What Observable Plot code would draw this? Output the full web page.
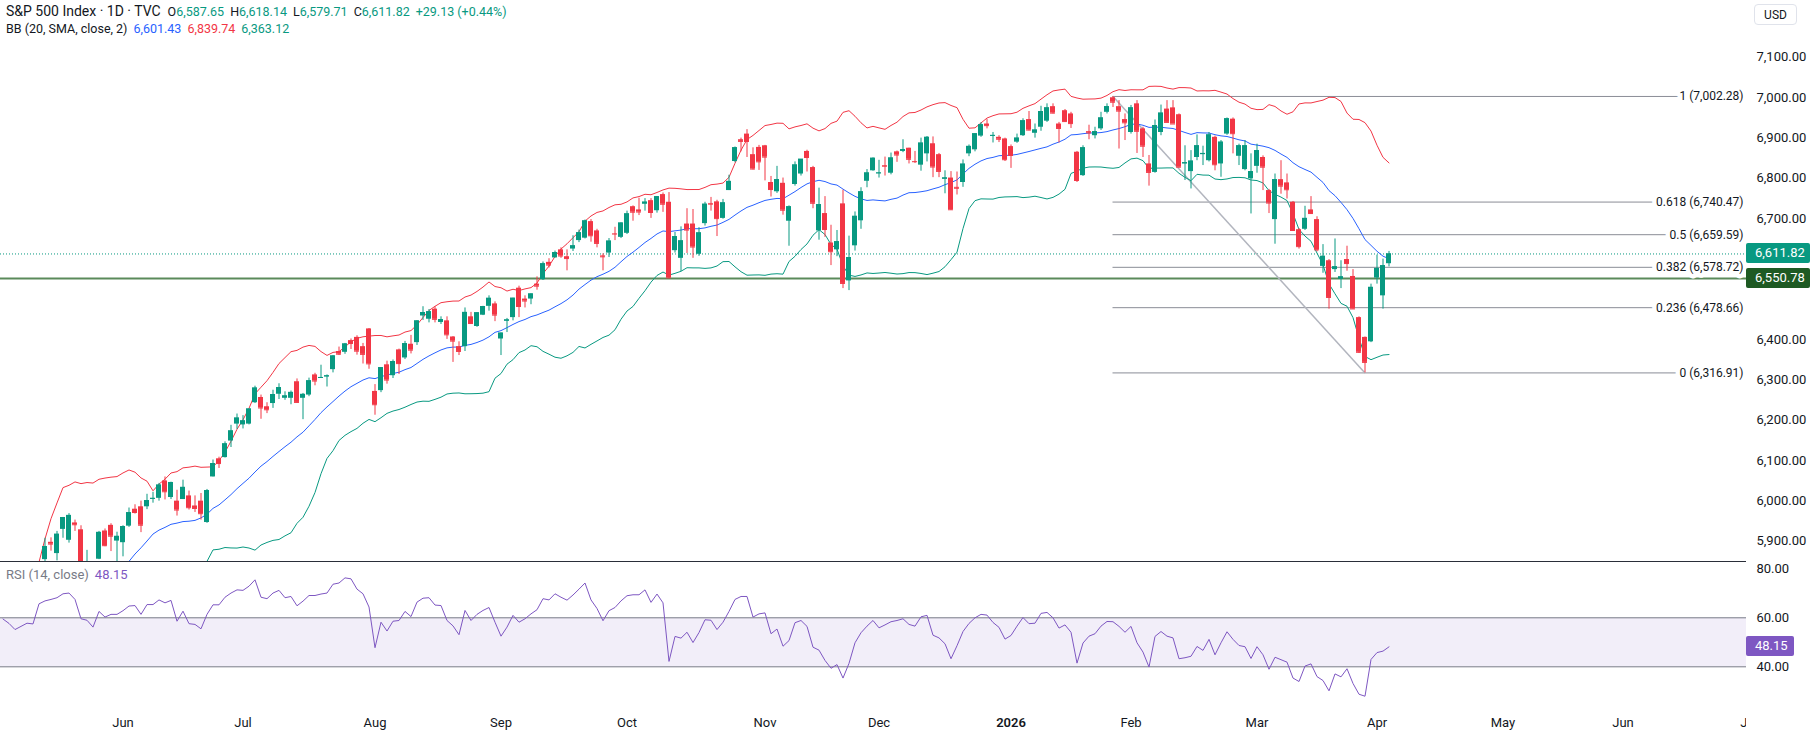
<!DOCTYPE html>
<html><head><meta charset="utf-8">
<script src="https://cdn.jsdelivr.net/npm/d3@7"></script>
<script src="https://cdn.jsdelivr.net/npm/@observablehq/plot@0.6"></script>
<style>
body{margin:0;background:#fff;font-family:Roboto,"Noto Sans",sans-serif;}
#wrap{position:relative;width:1812px;height:733px;overflow:hidden;background:#fff;}
#wrap svg{position:absolute;left:0;}
.legend{position:absolute;left:6px;font-size:13px;color:#131722;white-space:nowrap;}
.legend > span{margin-right:6px;}
.legend.bb{font-size:12.5px;}
.legend.top{font-size:12.5px;}
.legend.top > span{margin-right:6px;}
.legend.top > span.name{font-size:14px;margin-right:7px;}
.badge{position:absolute;left:1746px;width:64px;height:20px;line-height:20px;padding-left:9px;box-sizing:border-box;color:#fff;font-size:13px;border-radius:2px;}
.sep{position:absolute;left:0;background:#2a2e39;}
#usd{position:absolute;left:1754px;top:4px;width:43px;height:21px;line-height:21px;text-align:center;border:1px solid #e0e3eb;border-radius:4px;font-size:12px;color:#131722;box-sizing:border-box;}
</style></head><body><div id="wrap"></div>
<script>
// ---------------- data ----------------
const priorClose = [5405.97,5396.63,5275.70,5282.70,5158.20,5287.76,5375.86,5484.77,5525.21,5528.75,5560.83,5569.06,5604.14,5686.67,5650.38,5606.91,5631.28,5663.94,5659.91,5844.19];
const open = [5854,5897,5869,5929,5902,5945,5928,5841,5781,5855,5925,5939,5900,5896,5937,5979,5985,5985,6004,6006,
6049,6008,5999,6003,6012,5987,5999,5946,6059,6104,6107,6148,6190,6188,6190,6243,6256,6233,6241,6264,
6254,6254,6295,6254,6262,6312,6304,6307,6325,6370,6368,6397,6405,6382,6426,6271,6273,6337,6310,6374,
6354,6388,6392,6458,6450,6475,6442,6446,6406,6382,6382,6456,6432,6460,6482,6488,6401,6445,6454,6527,
6500,6500,6537,6548,6591,6602,6622,6605,6624,6645,6651,6692,6669,6607,6614,6662,6653,6663,6729,6721,
6735,6744,6719,6759,6740,6620,6601,6686,6686,6611,6687,6737,6741,6700,6769,6841,6895,6909,6858,6876,
6880,6789,6766,6787,6693,6784,6810,6866,6826,6669,6712,6639,6622,6736,6545,6632,6694,6792,6818,6811,
6831,6812,6865,6866,6874,6841,6832,6860,6885,6858,6797,6800,6777,6789,6860,6870,6904,6934,6904,6901,
6897,6878,6889,6905,6945,6911,6926,6941,6977,6934,6967,6959,6864,6806,6915,6905,6922,6963,6999,6977,
6945,6913,6984,6922,6835,6814,6913,6971,6974,6957,6835,6816,6851,6858,6843,6901,6835,6909,6946,6854,
6821,6798,6829,6851,6769,6697,6796,6788,6740,6672,6673,6721,6697,6581,6595,6573,6549,6598,6556,6454,
6405,6394,6552,6508,6587.65];
const high = [5907,5908,5924,5958.6,5968,5952,5938,5877,5829,5924,5930,5943,5922,5938,5982,5990,5999,6016,6021,6043,
6059,6046,6026,6051,6024,6012,6018,6028,6101,6108,6146,6187,6215,6211,6227,6284,6262,6243,6274,6290,
6270,6272,6302,6266,6304,6316,6336,6312,6360,6381,6390,6401,6409,6390,6427,6288,6330,6346,6349,6376,
6395,6410,6446,6481,6474,6481,6456,6456,6407,6394,6478,6467,6466,6482,6508,6493,6416,6452,6502,6532,
6508,6513,6555,6592,6600,6619,6627,6622,6657,6671,6696,6697,6673,6612,6650,6678,6689,6718,6731,6750,
6749,6749,6754,6763,6764,6665,6679,6724,6722,6677,6740,6752,6745,6747,6807,6877,6899,6920,6875,6881,
6881,6804,6829,6800,6731,6840,6846,6869,6829,6775,6754,6683,6670,6770,6656,6716,6776,6821,6850,6844,
6852,6862,6867,6895,6874,6866,6899,6903,6902,6861,6818,6816,6815,6845,6882,6910,6937,6945,6913,6905,
6899,6882,6909,6947,6965,6934,6978,6984,6984,6938,6970,6963,6866,6880,6931,6926,6963,6984,7002.28,6992,
6959,6980,6992,6926,6856,6944,6981,6992,6992,6959,6880,6868,6907,6879,6913,6904,6893,6949,6949,6884,
6893,6860,6884,6855,6772,6810,6843,6810,6742,6675,6730,6754,6704,6635,6598,6649,6595,6631,6573,6456,
6406,6537,6609,6599,6618.14];
const low = [5843,5875,5851,5907,5895,5924,5830,5809,5767,5854,5886,5874,5843,5861,5934,5967,5921,5978,5994,5999,
6002,6003,5962,6003,5977,5971,5952,5944,6059,6080,6106,6132,6177,6178,6188,6241,6202,6216,6229,6251,
6249,6238,6242,6201,6258,6285,6303,6282,6317,6360,6363,6375,6361,6339,6326,6212,6268,6289,6303,6313,
6350,6364,6385,6447,6441,6441,6437,6400,6343,6360,6370,6438,6430,6459,6470,6444,6360,6417,6446,6454,
6478,6486,6522,6546,6577,6602,6601,6570,6618,6640,6649,6641,6627,6570,6603,6645,6650,6660,6693,6707,
6718,6700,6713,6715,6550,6614,6568,6613,6601,6606,6681,6718,6655,6698,6769,6838,6865,6851,6820,6819,
6793,6753,6762,6708,6631,6780,6805,6815,6724,6646,6653,6583,6605,6526,6521,6619,6673,6776,6817,6800,
6805,6808,6839,6863,6835,6836,6817,6840,6801,6801,6761,6720,6758,6777,6853,6865,6901,6922,6887,6888,
6841,6824,6886,6903,6917,6899,6916,6938,6959,6887,6938,6923,6789,6804,6895,6897,6918,6959,6975,6872,
6893,6909,6861,6851,6780,6812,6905,6937,6936,6825,6794,6773,6843,6831,6840,6818,6802,6906,6860,6831,
6818,6711,6812,6769,6712,6636,6760,6748,6668,6624,6670,6710,6617,6564,6475,6566,6526,6569,6475,6365,
6316.91,6392,6537,6475,6579.71];
const close = [5886.55,5892.58,5916.93,5958.38,5963.60,5940.46,5844.61,5842.01,5802.82,5921.54,5888.55,5912.17,5911.69,5935.94,5970.37,5970.81,5939.30,6000.36,6005.88,6038.81,
6022.24,6045.26,5976.97,6033.11,5982.72,5980.87,5967.84,6025.17,6092.18,6092.16,6141.02,6173.07,6204.95,6198.01,6227.42,6279.35,6229.98,6225.52,6263.26,6280.46,
6259.75,6268.56,6243.76,6263.70,6297.36,6296.79,6305.60,6309.62,6358.91,6363.35,6388.64,6389.77,6370.86,6362.90,6339.39,6238.01,6329.94,6299.19,6345.06,6340.00,
6389.45,6373.45,6445.76,6466.58,6468.54,6449.80,6449.15,6411.37,6395.78,6370.17,6466.91,6439.32,6465.94,6481.40,6501.86,6460.26,6415.54,6448.26,6502.08,6481.50,
6495.15,6512.61,6532.04,6587.47,6584.29,6615.28,6606.76,6600.35,6631.96,6664.36,6693.75,6656.92,6637.97,6604.72,6643.70,6661.21,6688.46,6711.20,6715.35,6715.79,
6740.28,6714.59,6753.72,6735.11,6552.51,6654.72,6644.31,6671.06,6629.07,6664.01,6735.13,6735.35,6699.40,6738.44,6791.69,6875.16,6890.89,6890.59,6822.34,6840.20,
6851.97,6771.55,6796.29,6720.32,6728.80,6832.43,6846.61,6850.92,6737.49,6734.11,6672.41,6617.32,6642.16,6538.76,6602.99,6705.12,6765.88,6812.61,6849.09,6812.63,
6829.37,6849.72,6857.12,6870.40,6846.51,6840.51,6886.68,6901.00,6827.41,6816.51,6800.26,6721.43,6774.76,6834.50,6878.49,6909.79,6932.05,6929.94,6905.74,6896.24,
6845.50,6856,6899,6942,6919,6919,6965,6974,6961,6923,6940,6935,6794,6875,6912,6915,6949,6977,6988,6966,
6937,6974,6916,6879,6814,6930,6961,6938,6934,6827,6838,6842,6880,6861,6907,6833,6889,6947,6910,6880,
6880,6816,6868,6827,6738,6796,6780,6771,6670,6630,6700,6712,6622,6606,6504,6580,6555,6588,6475.5,6368,
6343,6529,6576,6582.69,6611.82];
const rsiFirstBar = -7;
const rsi = [59.5,57.7,55.2,56.5,57.8,57.5,65.7,
66.9,67.5,68.2,69.8,70.1,67.5,59.6,59.0,56.2,62.6,60.3,61.4,61.4,62.9,64.8,65.0,61.4,65.4,65.4,67.3,
66.1,67.1,58.6,62.7,57.6,57.3,55.5,61.4,65.3,65.3,68.4,70.1,71.4,71.2,72.9,75.5,68.4,67.8,70.1,71.2,
68.2,68.7,64.9,66.8,69.1,69.1,69.7,70.1,73.7,74.2,76.3,75.9,71.7,69.8,64.4,47.8,58.2,54.6,58.6,58.9,
62.6,60.5,66.4,68.0,68.2,65.2,65.0,58.9,56.7,53.1,63.0,58.9,61.4,63.0,64.2,58.2,52.5,56.2,61.0,58.2,
59.6,61.6,63.3,67.8,67.3,69.8,68.4,67.2,69.3,71.7,74.2,67.3,63.8,58.8,62.9,64.2,66.9,69.0,69.4,69.4,
71.4,66.3,69.7,66.1,42.2,52.4,51.7,54.1,49.9,54.0,59.2,59.0,55.2,58.2,62.6,67.5,68.7,68.7,60.3,61.6,
62.0,53.5,55.4,48.4,50.7,58.0,58.9,56.5,48.0,46.8,42.6,39.4,40.9,35.4,41.4,49.8,53.9,56.6,58.9,55.9,
57.1,58.4,58.9,59.6,57.3,56.6,60.4,61.0,52.9,51.8,49.4,43.3,48.6,54.4,57.7,60.0,61.4,61.1,58.1,56.1,
51.3,52.8,56.6,60.1,57.6,57.8,61.8,62.2,60.0,55.8,57.1,54.1,41.5,49.7,52.5,53.5,56.6,58.5,58.4,56.5,
54.1,56.5,49.8,46.0,39.9,52.4,54.4,52.5,51.8,43.3,43.7,44.3,48.3,46.7,51.2,44.9,49.8,54.3,51.2,48.7,
48.2,43.4,48.2,44.9,39.0,43.9,42.9,41.9,35.4,34.0,40.3,41.2,36.0,34.4,30.2,37.1,35.9,39.2,33.2,28.8,
28.0,43.0,45.8,46.4,48.15];
const monthLabels = ["Jun","Jul","Aug","Sep","Oct","Nov","Dec","2026","Feb","Mar","Apr","May","Jun","Jul"];
const monthBar    = [13,33,55,76,97,120,139,161,181,202,222,243,263,284];
const priceTicks = [5900,6000,6100,6200,6300,6400,6700,6800,6900,7000,7100];
const rsiTicks = [40,60,80];
const rsiBand = [40,60];
const fibRatios = ["1","0.618","0.5","0.382","0.236","0"];
const fibPrices = [7002.28,6740.47,6659.59,6578.72,6478.66,6316.91];
const fibFromBar = 178, fibToBar = 220;
const supportLevel = 6550.78;
const lastClose = 6611.82;
const headerName = "S&P 500 Index · 1D · TVC";
const headerKeys = ["O","H","L","C"];
const headerVals = [6587.65,6618.14,6579.71,6611.82];
const headerChange = "+29.13 (+0.44%)";
const bbTitle = "BB (20, SMA, close, 2)";
const bbVals = [6601.43,6839.74,6363.12];
const rsiTitle = "RSI (14, close)";
const rsiLast = 48.15;

// ---------------- tables ----------------
const UP = "#089981", DOWN = "#f23645";
const bars = close.map((c, k) => ({i: k, o: open[k], h: high[k], l: low[k], c}));
const closes = priorClose.map((c, k) => ({i: k - priorClose.length, c})).concat(bars.map(b => ({i: b.i, c: b.c})));
const rsiRows = rsi.map((v, k) => ({i: k + rsiFirstBar, v}));
const months = monthLabels.map((label, k) => ({label, i: monthBar[k]}));
const fibs = fibRatios.map((r, k) => ({r, p: fibPrices[k]}));
const fmt = d3.format(",.2f");
const col = d => d.c >= d.o ? UP : DOWN;
const sd = v => { const m = d3.mean(v); return Math.sqrt(d3.mean(v, x => (x - m) ** 2)); };
const upperFn = v => d3.mean(v) + 2 * sd(v);
const lowerFn = v => d3.mean(v) - 2 * sd(v);

// ---------------- layout ----------------
const W = 1812, axisW = 66, paneW = W - axisW;
const barPx = 6, firstBarX = 44.5;
const xDomain = [-firstBarX / barPx, (paneW - firstBarX) / barPx];
const half = 2.5 / barPx;
const font = {fontFamily: "Roboto, 'Noto Sans', sans-serif", fontSize: "13px", color: "#131722", background: "transparent", overflow: "visible"};

const main = Plot.plot({
  width: W, height: 562, marginLeft: 0, marginRight: axisW, marginTop: 0, marginBottom: 0,
  style: font,
  x: {domain: xDomain, axis: null},
  y: {domain: [5846.9, 7240.2], axis: null},
  marks: [
    Plot.axisY(priceTicks, {anchor: "right", label: null, tickSize: 0, tickPadding: 10, tickFormat: fmt, fill: "#131722"}),
    Plot.ruleY([supportLevel], {stroke: "#5a8a5a", strokeWidth: 2}),
    Plot.ruleY([lastClose], {stroke: UP, strokeDasharray: "1 2"}),
    Plot.ruleY(fibs, {y: "p", x1: fibFromBar, x2: xDomain[1], stroke: "#8a8d96", strokeWidth: 1}),
    Plot.text(fibs, {y: "p", x: xDomain[1], text: d => `${d.r} (${fmt(d.p)})`, textAnchor: "end", dx: -3, fill: "#131722", fontSize: 12, stroke: "white", strokeWidth: 9}),
    Plot.link([{x1: fibFromBar, y1: fibPrices[0], x2: fibToBar, y2: fibPrices[5]}], {x1: "x1", y1: "y1", x2: "x2", y2: "y2", stroke: "#b2b5be", strokeWidth: 1.5}),
    Plot.line(closes, Plot.windowY({k: 20, anchor: "end", reduce: upperFn}, {x: "i", y: "c", stroke: "#f23645", strokeWidth: 1, clip: true})),
    Plot.line(closes, Plot.windowY({k: 20, anchor: "end", reduce: "mean"}, {x: "i", y: "c", stroke: "#2962ff", strokeWidth: 1, clip: true})),
    Plot.line(closes, Plot.windowY({k: 20, anchor: "end", reduce: lowerFn}, {x: "i", y: "c", stroke: "#089981", strokeWidth: 1, clip: true})),
    Plot.ruleX(bars, {x: "i", y1: "l", y2: "h", stroke: col, strokeWidth: 1, clip: true}),
    Plot.rect(bars, {x1: d => d.i - half, x2: d => d.i + half, y1: "o", y2: "c", fill: col, clip: true}),
    Plot.ruleY(bars, {y: "c", x1: d => d.i - half, x2: d => d.i + half, stroke: col, clip: true})
  ]
});

const rsiPane = Plot.plot({
  width: W, height: 150, marginLeft: 0, marginRight: axisW, marginTop: 0, marginBottom: 0,
  style: font,
  x: {domain: xDomain, axis: null},
  y: {domain: [21.35, 82.57], axis: null},
  marks: [
    Plot.rect([rsiBand], {y1: d => d[0], y2: d => d[1], fill: "#7e57c2", fillOpacity: 0.1}),
    Plot.ruleY(rsiBand, {stroke: "#787b86", strokeWidth: 1}),
    Plot.line(rsiRows, {x: "i", y: "v", stroke: "#7e57c2", strokeWidth: 1, clip: true}),
    Plot.axisY(rsiTicks, {anchor: "right", label: null, tickSize: 0, tickPadding: 10, tickFormat: d3.format(".2f"), fill: "#131722"})
  ]
});

const timeAxis = Plot.plot({
  width: W, height: 21, marginLeft: 0, marginRight: axisW, marginTop: 0, marginBottom: 0,
  style: font,
  x: {domain: xDomain, axis: null},
  marks: [
    Plot.text(months.filter(d => d.label !== "2026"), {x: "i", text: "label", frameAnchor: "middle", fill: "#131722", clip: true}),
    Plot.text(months.filter(d => d.label === "2026"), {x: "i", text: "label", frameAnchor: "middle", fill: "#131722", fontWeight: 600, clip: true})
  ]
});

const wrap = document.getElementById("wrap");
main.style.top = "0px"; rsiPane.style.top = "562px"; timeAxis.style.top = "712px";
wrap.append(main, rsiPane, timeAxis);

function div(cls, css, html) { const e = document.createElement("div"); e.className = cls; Object.assign(e.style, css); e.innerHTML = html; wrap.append(e); return e; }
div("sep", {top: "561px", width: paneW + "px", height: "1px"}, "");

const yMain = main.scale("y"), yRsi = rsiPane.scale("y");
div("badge", {top: (yMain.apply(lastClose) - 10) + "px", background: UP}, fmt(lastClose));
div("badge", {top: (yMain.apply(supportLevel) - 10) + "px", background: "#1e5a23"}, fmt(supportLevel));
div("badge", {top: (562 + yRsi.apply(rsiLast) - 10) + "px", background: "#7e57c2", width: "48px"}, d3.format(".2f")(rsiLast));

const g = s => `<span style="color:${UP}">${s}</span>`;
div("legend top", {top: "3px"}, `<span class="name">${headerName.replace("&","&amp;")}</span>` +
  headerKeys.map((k, j) => `<span>${k}${g(fmt(headerVals[j]))}</span>`).join("") + `<span>${g(headerChange)}</span>`);
div("legend bb", {top: "21px"}, `<span style="color:#131722">${bbTitle}</span><span style="color:#2962ff">${fmt(bbVals[0])}</span><span style="color:#f23645">${fmt(bbVals[1])}</span><span style="color:#089981">${fmt(bbVals[2])}</span>`);
div("legend", {top: "567px"}, `<span style="color:#787b86">${rsiTitle}</span><span style="color:#7e57c2">${d3.format(".2f")(rsiLast)}</span>`);
const usd = document.createElement("div"); usd.id = "usd"; usd.textContent = "USD"; wrap.append(usd);
</script></body></html>
